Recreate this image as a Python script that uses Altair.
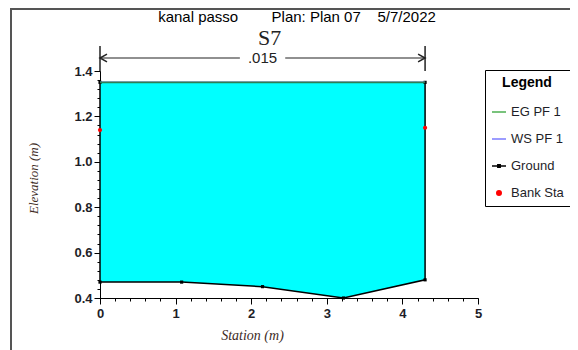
import altair as alt
import pandas as pd

# ---- text ----
title_text = "kanal passo" + "\u00a0" * 7 + " Plan: Plan 07" + "\u00a0" * 3 + " 5/7/2022"
section_name = "S7"
mann_n_label = ".015"

# ---- data ----
ground_station = [0.0, 0.0, 1.08, 2.15, 3.22, 4.30, 4.30]
ground_elev = [1.35, 0.47, 0.47, 0.45, 0.40, 0.48, 1.35]
ws_elev = 1.35
eg_elev = 1.35
bank_station = [0.0, 4.30]
bank_elev = [1.14, 1.15]

legend_items = ["EG PF 1", "WS PF 1", "Ground", "Bank Sta"]
legend_colors = ["#4caf50", "#7b7bff", "#000000", "#ff0000"]

x_major = [0, 1, 2, 3, 4, 5]
y_major = [0.4, 0.6, 0.8, 1.0, 1.2, 1.4]
x_minor = [round(i * 0.2, 1) for i in range(26)]        # minor every 0.2
y_minor = [round(0.4 + 0.04 * i, 2) for i in range(26)]  # minor every 0.04

W, H = 378, 227
SANS = "Liberation Sans"
SERIF = "Liberation Serif"

# ---- tables ----
ground = pd.DataFrame({"station": ground_station, "elev": ground_elev,
                       "order": list(range(len(ground_station)))})
water = ground[ground["elev"] < ws_elev].copy()
water["ws"] = ws_elev
ws_line = pd.DataFrame({"station": bank_station, "elev": [ws_elev] * 2})
eg_line = pd.DataFrame({"station": bank_station, "elev": [eg_elev] * 2})
banks = pd.DataFrame({"station": bank_station, "elev": bank_elev})

mid = (bank_station[0] + bank_station[1]) / 2
gap = 0.30
dim_segs = pd.DataFrame({"x1": [bank_station[0], mid + gap], "x2": [mid - gap, bank_station[1]]})
dim_ends = pd.DataFrame({"station": bank_station, "dir": ["left", "right"]})
dim_text = pd.DataFrame({"station": [mid], "label": [mann_n_label], "name": [section_name]})
legend_df = pd.DataFrame({"series": legend_items})

xscale = alt.Scale(domain=[0, 5], nice=False, zero=False)
yscale = alt.Scale(domain=[0.4, 1.4], nice=False, zero=False)

common_axis = dict(grid=False, domainColor="black", tickColor="black", domainWidth=1, tickWidth=1,
                   labelFont=SANS, labelFontSize=13, labelFontWeight="bold", labelColor="#1e1e28",
                   labelOverlap=False, labelFlush=False)

x_axis = alt.Axis(
    values=x_major, format="d", tickSize=6, labelPadding=3, orient="bottom",
    title="Station (m)", titleFont=SERIF, titleFontStyle="italic", titleFontWeight="normal",
    titleFontSize=14, titleColor="#3d2b1f", titleX=152, titleY=37, titleBaseline="middle",
    **common_axis,
)
y_axis = alt.Axis(
    values=y_major, format=".1f", tickSize=6, labelPadding=2, orient="left",
    title="Elevation (m)", titleFont=SERIF, titleFontStyle="italic", titleFontWeight="normal",
    titleFontSize=13, titleColor="#3d2b1f", titleX=-67, titleY=107, titleBaseline="middle",
    titleAngle=270,
    **common_axis,
)
x_minor_axis = alt.Axis(values=x_minor, tickSize=3, labels=False, domain=False, grid=False,
                        tickColor="black", title=None, orient="bottom")
y_minor_axis = alt.Axis(values=y_minor, tickSize=3, labels=False, domain=False, grid=False,
                        tickColor="black", title=None, orient="left")

area = alt.Chart(water).mark_area(color="#00ffff", opacity=1, interpolate="linear").encode(
    x=alt.X("station:Q", scale=xscale, axis=x_axis),
    y=alt.Y("elev:Q", scale=yscale, axis=y_axis),
    y2="ws:Q",
)

ground_line = alt.Chart(ground).mark_line(color="black", strokeWidth=1.5).encode(
    x=alt.X("station:Q", axis=x_minor_axis), y=alt.Y("elev:Q", axis=y_minor_axis), order="order:Q")
ground_pts = alt.Chart(ground).mark_point(shape="square", filled=True, color="black", size=10, opacity=1).encode(
    x=alt.X("station:Q", axis=None), y=alt.Y("elev:Q", axis=None))

ws = alt.Chart(ws_line).mark_line(color="#7b7bff", strokeWidth=1.5).encode(
    x=alt.X("station:Q", axis=None), y=alt.Y("elev:Q", axis=None))
eg = alt.Chart(eg_line).mark_line(color="#2f7f55", strokeWidth=1.8).encode(
    x=alt.X("station:Q", axis=None), y=alt.Y("elev:Q", axis=None))

bank_pts = alt.Chart(banks).mark_point(shape="circle", filled=True, color="#ff0000", size=18, opacity=1).encode(
    x=alt.X("station:Q", axis=None), y=alt.Y("elev:Q", axis=None))

# dimension (roughness) bracket above the plot
dim_ticks = alt.Chart(banks).mark_rule(color="#222222", strokeWidth=1.5).encode(
    x=alt.X("station:Q", axis=None), y=alt.value(-25), y2=alt.value(0))
dim_lines = alt.Chart(dim_segs).mark_rule(color="#222222", strokeWidth=1.2).encode(
    x=alt.X("x1:Q", axis=None), x2="x2:Q", y=alt.value(-13))
left_head = alt.Chart(dim_ends[dim_ends["dir"] == "left"]).mark_point(
    shape="M2,-1.1L0,0L2,1.1", filled=False, color="#222222", size=49, strokeWidth=1.5, opacity=1
).encode(x=alt.X("station:Q", axis=None), y=alt.value(-13))
right_head = alt.Chart(dim_ends[dim_ends["dir"] == "right"]).mark_point(
    shape="M-2,-1.1L0,0L-2,1.1", filled=False, color="#222222", size=49, strokeWidth=1.5, opacity=1
).encode(x=alt.X("station:Q", axis=None), y=alt.value(-13))
n_text = alt.Chart(dim_text).mark_text(font=SANS, fontSize=15, color="#222222", baseline="middle").encode(
    x=alt.X("station:Q", axis=None), y=alt.value(-13), text="label:N")
s_text = alt.Chart(dim_text).mark_text(font=SERIF, fontSize=22, color="#222222", baseline="middle", dx=7).encode(
    x=alt.X("station:Q", axis=None), y=alt.value(-33), text="name:N")
title_mark = alt.Chart(dim_text).mark_text(font=SANS, fontSize=15, color="black", baseline="middle", dx=8).encode(
    x=alt.value(W / 2), y=alt.value(-54), text=alt.value(title_text))

# outer frame
frame_left = alt.Chart(dim_text).mark_rule(color="#555555", strokeWidth=2).encode(
    x=alt.value(-89), y=alt.value(-63), y2=alt.value(H + 60))
frame_top = alt.Chart(dim_text).mark_rule(color="#555555", strokeWidth=2).encode(
    x=alt.value(-90), x2=alt.value(W + 92), y=alt.value(-62))

# legend (built from an explicit scale domain, no marks drawn)
leg = alt.Legend(
    title="Legend", orient="none", legendX=385, legendY=-1,
    strokeColor="black", padding=6, fillColor="white",
    titleFont=SANS, titleFontSize=14, titleFontWeight="bold", titleColor="black",
    titleAnchor="middle", titlePadding=14,
    labelFont=SANS, labelFontSize=13, labelColor="#1e1e28", labelOffset=4,
    rowPadding=12, symbolSize=196, symbolStrokeWidth=1.5, symbolOpacity=1,
)
shapes = ["M-1,0H1", "M-1,0H1", "M-1,0H1M-0.17,-0.17H0.17V0.17H-0.17Z",
          "M0,-0.32A0.32,0.32,0,1,1,0,0.32A0.32,0.32,0,1,1,0,-0.32Z"]
legend_layer = alt.Chart(legend_df).transform_filter("false").mark_point(filled=True).encode(
    x=alt.value(0), y=alt.value(0),
    fill=alt.Fill("series:N", scale=alt.Scale(domain=legend_items, range=legend_colors), legend=leg),
    stroke=alt.Stroke("series:N", scale=alt.Scale(domain=legend_items, range=legend_colors), legend=leg),
    shape=alt.Shape("series:N", scale=alt.Scale(domain=legend_items, range=shapes), legend=leg),
)

chart = alt.layer(
    area, ground_line, ground_pts, ws, eg, bank_pts,
    dim_ticks, dim_lines, left_head, right_head, n_text, s_text, title_mark,
    frame_left, frame_top, legend_layer,
).resolve_axis(x="independent", y="independent").properties(
    width=W, height=H,
    autosize=alt.AutoSizeParams(type="none"),
    padding={"left": 92, "top": 63, "right": 92, "bottom": 52},
).configure(background="white", view=alt.ViewConfig(stroke=None))

chart.save("out.html", embed_options={"renderer": "svg", "actions": False})
